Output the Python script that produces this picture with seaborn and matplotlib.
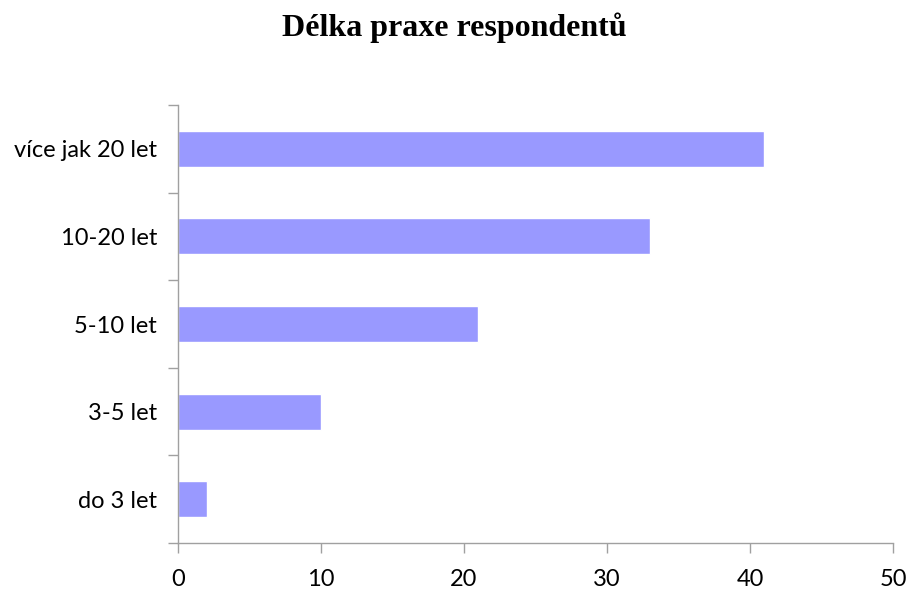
import matplotlib
matplotlib.use("Agg")
import matplotlib.pyplot as plt
import seaborn as sns
import pandas as pd
import numpy as np

categories = ["více jak 20 let", "10-20 let", "5-10 let", "3-5 let", "do 3 let"]
values = [41, 33, 21, 10, 2]
title = "Délka praxe respondentů"

sns.set_style("white")
plt.rcParams['font.family'] = ['Lato', 'DejaVu Sans']
plt.rcParams['text.color'] = 'black'
plt.rcParams['xtick.color'] = 'black'
plt.rcParams['ytick.color'] = 'black'

df = pd.DataFrame({"cat": categories, "val": values})

fig = plt.figure(figsize=(9.09, 5.93), dpi=100)
ax = fig.add_axes([0.1958, 0.0843, 0.7866, 0.7386])
sns.barplot(data=df, y="cat", x="val", order=categories, color="#9999FF",
            saturation=1, width=0.41, ax=ax, orient="h")

ax.set_xlim(0, 50)
ax.set_ylim(len(categories) - 0.5, -0.5)
ax.set_xticks([0, 10, 20, 30, 40, 50])
ax.set_xlabel("")
ax.set_ylabel("")

ax.set_yticks(np.arange(-0.5, len(categories), 1.0))
ax.set_yticklabels([])
ax.set_yticks(np.arange(len(categories)), minor=True)
ax.set_yticklabels(categories, minor=True)
ax.tick_params(axis="y", which="major", length=7, width=1, color="#A0A0A0", direction="out", left=True)
ax.tick_params(axis="y", which="minor", length=0, pad=15, labelsize=17, labelcolor="black")
ax.tick_params(axis="x", which="major", length=7, width=1, color="#A0A0A0", direction="out",
               bottom=True, pad=12, labelsize=17, labelcolor="black")

for s in ["top", "right"]:
    ax.spines[s].set_visible(False)
for s in ["left", "bottom"]:
    ax.spines[s].set_color("#A0A0A0")
    ax.spines[s].set_linewidth(1)

fig.text(0.5, 1 - 28 / 593, title, ha="center", va="center", color="black",
         fontsize=23, fontweight="bold", family=["Liberation Serif", "DejaVu Serif"])

fig.savefig("out.png", dpi=100)
